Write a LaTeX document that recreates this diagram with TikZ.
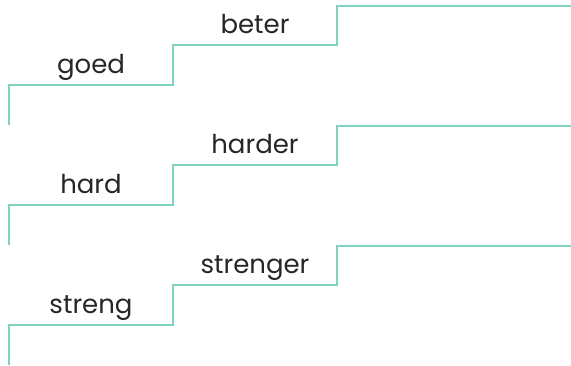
\documentclass[tikz,border=0pt]{standalone}
\usepackage{fontspec}
\setmainfont{Poppins}
\usepackage{tikz}
\definecolor{mint}{RGB}{125,211,190}

\begin{document}
\begin{tikzpicture}[x=1pt,y=-1pt]
		\useasboundingbox (0,0) rectangle (571,365);
		\tikzset{stair/.style={draw=mint,line width=2pt},
			word/.style={anchor=base,font=\fontsize{26}{30}\selectfont,text=black!85}}

		\foreach \base/\wa/\wb [count=\i] in {0/goed/beter,120/hard/harder,240/streng/strenger}{
			\draw[stair] (9,125+\base) -- (9,84.5+\base) -- (173,84.5+\base) -- (173,44.5+\base)
				-- (337,44.5+\base) -- (337,6+\base) -- (571,6+\base);
			\node[word] (pos\i) at (91,73+\base) {\wa};
			\node[word] (comp\i) at (255,33+\base) {\wb};
		}

	\end{tikzpicture}
\end{document}
